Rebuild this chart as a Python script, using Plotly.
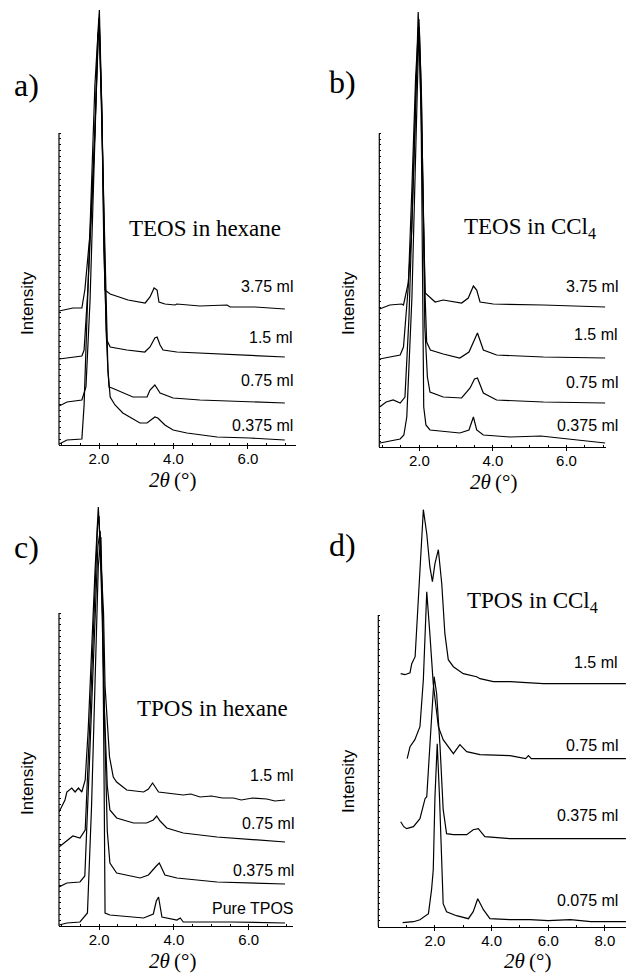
import plotly.graph_objects as go

# The page body has an 8px default margin; the figure is sized to fill the rest of the window.
PAGE_W, PAGE_H = 634, 973
OFF = 8
W, H = PAGE_W - OFF, PAGE_H - OFF

# ---------------- Panel a: TEOS in hexane ----------------
a_names = ["3.75 ml", "1.5 ml", "0.75 ml", "0.375 ml"]
a_x_375 = [0.93, 1.30, 1.54, 1.62, 1.76, 1.89, 1.97, 2.01, 2.07, 2.12, 2.16, 2.30, 2.78, 3.24, 3.37, 3.48, 3.56, 3.61, 3.77, 4.04, 4.09, 4.71, 5.44, 5.52, 6.19, 6.99]
a_y_375 = [134, 137, 137, 155, 212, 312, 412, 435, 345, 212, 155, 151, 145, 142, 148, 157, 155, 143, 141, 140, 141, 139, 140, 138, 138, 136]
a_x_15 = [0.93, 1.54, 1.60, 1.70, 1.84, 1.95, 2.00, 2.08, 2.13, 2.19, 2.21, 2.30, 2.75, 3.23, 3.37, 3.50, 3.56, 3.64, 3.72, 4.09, 5.44, 6.99]
a_y_15 = [86, 89, 95, 155, 265, 385, 427, 325, 195, 125, 105, 98, 95, 93, 98, 107, 108, 100, 95, 93, 91, 88]
a_x_075 = [0.93, 1.14, 1.54, 1.65, 1.76, 1.89, 1.97, 2.01, 2.08, 2.16, 2.24, 2.27, 2.35, 2.91, 3.29, 3.37, 3.50, 3.64, 3.99, 4.71, 6.99]
a_y_075 = [39, 43, 45, 58, 145, 295, 405, 420, 315, 165, 75, 58, 57, 48, 48, 55, 60, 52, 47, 45, 42]
a_x_0375 = [0.93, 1.14, 1.54, 1.60, 1.68, 1.79, 1.89, 1.97, 2.01, 2.07, 2.13, 2.19, 2.24, 2.30, 2.43, 2.64, 3.10, 3.29, 3.50, 3.58, 3.77, 3.99, 4.36, 5.17, 6.05, 6.99]
a_y_0375 = [1, 5, 6, 40, 130, 245, 360, 410, 417, 345, 215, 115, 75, 48, 40, 32, 22, 22, 28, 27, 20, 15, 12, 8, 7, 5]

# ---------------- Panel b: TEOS in CCl4 ----------------
b_names = ["3.75 ml", "1.5 ml", "0.75 ml", "0.375 ml"]
b_x_375 = [0.92, 1.20, 1.52, 1.57, 1.70, 1.79, 1.88, 1.95, 1.97, 2.02, 2.08, 2.13, 2.16, 2.43, 2.65, 3.15, 3.33, 3.47, 3.56, 3.65, 4.01, 5.37, 7.05]
b_y_375 = [138, 142, 143, 142, 164, 214, 314, 397, 435, 380, 280, 180, 154, 145, 147, 144, 149, 161, 157, 145, 143, 142, 140]
b_x_15 = [0.92, 1.20, 1.48, 1.57, 1.70, 1.80, 1.90, 1.99, 2.05, 2.10, 2.15, 2.20, 2.30, 2.65, 3.10, 3.35, 3.50, 3.58, 3.74, 4.10, 5.37, 7.05]
b_y_15 = [88, 90, 92, 100, 160, 260, 370, 428, 360, 260, 160, 105, 97, 93, 89, 95, 108, 114, 97, 92, 90, 89]
b_x_075 = [0.92, 1.10, 1.29, 1.48, 1.61, 1.72, 1.82, 1.92, 2.00, 2.06, 2.11, 2.15, 2.22, 2.29, 2.65, 3.15, 3.38, 3.50, 3.58, 3.74, 4.10, 5.37, 7.05]
b_y_075 = [40, 45, 47, 44, 50, 130, 250, 370, 420, 350, 230, 120, 70, 55, 50, 49, 59, 68, 69, 54, 47, 45, 44]
b_x_0375 = [0.93, 1.20, 1.48, 1.58, 1.66, 1.80, 1.92, 1.99, 2.05, 2.09, 2.12, 2.18, 2.29, 3.10, 3.35, 3.47, 3.56, 3.74, 4.47, 5.30, 7.05]
b_y_0375 = [4, 6, 8, 12, 30, 150, 330, 420, 330, 150, 40, 22, 17, 14, 17, 30, 17, 12, 10, 11, 4]

# ---------------- Panel c: TPOS in hexane ----------------
c_names = ["1.5 ml", "0.75 ml", "0.375 ml", "Pure TPOS"]
c_x_15 = [0.93, 1.09, 1.14, 1.27, 1.36, 1.45, 1.54, 1.63, 1.71, 1.80, 1.89, 1.98, 2.05, 2.12, 2.16, 2.21, 2.28, 2.38, 2.47, 2.74, 3.19, 3.32, 3.43, 3.59, 3.81, 4.25, 4.45, 4.70, 5.00, 5.30, 5.59, 5.80, 6.10, 6.48, 6.70, 6.97]
c_y_15 = [114, 126, 134, 138, 134, 138, 134, 146, 196, 279, 353, 419, 370, 313, 240, 213, 169, 149, 144, 136, 134, 137, 143, 134, 133, 131, 132, 129, 130, 128, 128, 126, 128, 127, 125, 126]
c_x_075 = [0.93, 1.22, 1.30, 1.49, 1.63, 1.75, 1.87, 1.96, 2.00, 2.07, 2.14, 2.22, 2.29, 2.47, 2.92, 3.27, 3.45, 3.54, 3.63, 3.81, 4.25, 5.15, 6.97]
c_y_075 = [79, 88, 90, 88, 96, 200, 320, 400, 410, 330, 220, 140, 116, 108, 103, 103, 106, 110, 105, 98, 93, 89, 84]
c_x_0375 = [0.93, 1.14, 1.49, 1.62, 1.75, 1.88, 1.97, 2.03, 2.09, 2.15, 2.22, 2.29, 2.47, 3.10, 3.32, 3.53, 3.61, 3.76, 4.08, 5.15, 6.97]
c_y_0375 = [39, 43, 44, 50, 170, 300, 380, 395, 320, 200, 95, 63, 53, 48, 51, 60, 63, 51, 48, 44, 42]
c_x_pure = [0.93, 1.14, 1.49, 1.69, 1.80, 1.90, 1.98, 2.05, 2.10, 2.14, 2.16, 2.29, 3.19, 3.45, 3.53, 3.59, 3.68, 4.08, 4.17, 4.25, 5.50, 6.97]
c_y_pure = [1, 3, 4, 13, 120, 270, 360, 389, 300, 120, 13, 11, 8, 12, 25, 29, 9, 6, 8, 4, 4, 3]

# ---------------- Panel d: TPOS in CCl4 ----------------
d_names = ["1.5 ml", "0.75 ml", "0.375 ml", "0.075 ml"]
d_x_15 = [0.79, 0.94, 1.12, 1.18, 1.30, 1.41, 1.50, 1.59, 1.71, 1.82, 1.91, 2.00, 2.12, 2.24, 2.35, 2.47, 2.65, 3.00, 3.47, 3.59, 4.06, 4.65, 5.82, 7.00, 8.74]
d_y_15 = [253, 252, 254, 263, 270, 327, 377, 417, 393, 360, 345, 363, 377, 343, 293, 267, 260, 253, 250, 248, 245, 245, 243, 243, 243]
d_x_075 = [1.02, 1.12, 1.29, 1.47, 1.59, 1.65, 1.71, 1.82, 1.94, 2.12, 2.29, 2.65, 2.88, 3.12, 3.59, 4.65, 5.20, 5.30, 5.40, 5.82, 7.00, 8.74]
d_y_075 = [168, 180, 187, 200, 247, 297, 335, 293, 243, 200, 187, 173, 182, 175, 172, 171, 168, 171, 168, 168, 168, 168]
d_x_0375 = [0.79, 0.90, 1.00, 1.24, 1.47, 1.59, 1.65, 1.71, 1.76, 1.85, 1.97, 2.06, 2.18, 2.29, 2.41, 2.65, 3.12, 3.35, 3.53, 3.76, 4.65, 8.74]
d_y_0375 = [105, 100, 98, 100, 108, 120, 128, 130, 153, 197, 250, 233, 180, 117, 93, 92, 92, 97, 98, 90, 88, 88]
d_x_0075 = [0.86, 1.24, 1.47, 1.77, 1.88, 1.94, 2.00, 2.08, 2.16, 2.24, 2.29, 2.41, 2.76, 3.18, 3.35, 3.51, 3.71, 3.94, 4.65, 5.35, 6.00, 6.78, 7.50, 8.74]
d_y_0075 = [4, 5, 7, 13, 37, 57, 130, 183, 130, 57, 23, 15, 11, 8, 15, 28, 17, 8, 7, 7, 6, 7, 5, 5]

titles = ["TEOS in hexane", "TEOS in CCl<sub>4</sub>", "TPOS in hexane", "TPOS in CCl<sub>4</sub>"]
letters = ["a)", "b)", "c)", "d)"]

panels = [
    dict(xs=[a_x_375, a_x_15, a_x_075, a_x_0375], ys=[a_y_375, a_y_15, a_y_075, a_y_0375], names=a_names,
         xdom=(59, 296), xr=(0.926, 7.29), ydom=(445, 9), yr=(0, 436), ytop=312, ticks=[2, 4, 6], minor=0.5,
         letter=(12, 85), title=(127, 228), lab_x=295, lab_y=[286, 337, 380, 425], inten=(27, 303), xt=(172, 480)),
    dict(xs=[b_x_375, b_x_15, b_x_075, b_x_0375], ys=[b_y_375, b_y_15, b_y_075, b_y_0375], names=b_names,
         xdom=(379.3, 606), xr=(0.913, 7.073), ydom=(447, 9), yr=(0, 438), ytop=313.7, ticks=[2, 4, 6], minor=0.5,
         letter=(327, 82), title=(462, 228), lab_x=620, lab_y=[286, 335, 382, 425], inten=(348, 303), xt=(493, 482)),
    dict(xs=[c_x_15, c_x_075, c_x_0375, c_x_pure], ys=[c_y_15, c_y_075, c_y_0375, c_y_pure], names=c_names,
         xdom=(59, 293.3), xr=(0.93, 7.19), ydom=(926, 500), yr=(0, 426), ytop=313, ticks=[2, 4, 6], minor=0.5,
         letter=(12, 547), title=(135, 708), lab_x=296, lab_y=[775, 823, 870, 908], inten=(27, 783), xt=(172, 961)),
    dict(xs=[d_x_15, d_x_075, d_x_0375, d_x_0075], ys=[d_y_15, d_y_075, d_y_0375, d_y_0075], names=d_names,
         xdom=(378.3, 633), xr=(0, 8.99), ydom=(926.7, 500), yr=(0, 426.7), ytop=311.7, ticks=[2, 4, 6, 8], minor=1.0,
         letter=(327, 545), title=(465, 602), lab_x=620, lab_y=[662, 745, 815, 900], inten=(348, 781), xt=(527, 961)),
]

def fx(p):
    return (p - OFF) / W

def fy(p):
    return 1 - (p - OFF) / H

fig = go.Figure()
annotations = []
shapes = []
layout = {}

SANS = "Liberation Sans, Arial, sans-serif"
SERIF = "Liberation Serif, Times New Roman, serif"

for i, p in enumerate(panels):
    k = "" if i == 0 else str(i + 1)
    xa, ya = "x" + k, "y" + k
    for xs, ys, nm in zip(p["xs"], p["ys"], p["names"]):
        fig.add_trace(go.Scatter(x=xs, y=ys, mode="lines", name=nm, xaxis=xa, yaxis=ya,
                                 line=dict(color="black", width=1.2), showlegend=False, hoverinfo="skip"))
    ticktext = [f"{v:.1f}" for v in p["ticks"]]
    layout["xaxis" + k] = dict(
        domain=[fx(p["xdom"][0]), min(1.0, fx(p["xdom"][1]))], range=list(p["xr"]), anchor=ya,
        showline=True, linecolor="black", linewidth=1, showgrid=False, zeroline=False,
        ticks="outside", ticklen=3, tickcolor="black", tickwidth=1,
        tickvals=p["ticks"], ticktext=ticktext, ticklabelstandoff=-3,
        tickfont=dict(family=SANS, size=15, color="black"),
        minor=dict(ticks="inside", ticklen=2, tickcolor="black", dtick=p["minor"], tick0=0, showgrid=False),
        fixedrange=True,
    )
    n = 54
    layout["yaxis" + k] = dict(
        domain=[fy(p["ydom"][0]), fy(p["ydom"][1])], range=list(p["yr"]), anchor=xa,
        showline=False, showgrid=False, zeroline=False, showticklabels=False,
        ticks="inside", ticklen=2, tickcolor="black", tickwidth=1,
        tickvals=[j * p["ytop"] / n for j in range(n + 1)], fixedrange=True,
    )
    shapes.append(dict(type="line", xref=xa + " domain", yref=ya, x0=0, x1=0, y0=0, y1=p["ytop"],
                       line=dict(color="black", width=1.2)))
    annotations.append(dict(text=letters[i], x=fx(p["letter"][0]), y=fy(p["letter"][1]), xref="paper", yref="paper",
                            xanchor="left", yanchor="middle", showarrow=False,
                            font=dict(family=SERIF, size=32, color="black")))
    annotations.append(dict(text=titles[i], x=fx(p["title"][0]), y=fy(p["title"][1]), xref="paper", yref="paper",
                            xanchor="left", yanchor="middle", showarrow=False,
                            font=dict(family=SERIF, size=23, color="black")))
    for nm, ly in zip(p["names"], p["lab_y"]):
        annotations.append(dict(text=nm, x=fx(p["lab_x"]), y=fy(ly), xref="paper", yref="paper",
                                xanchor="right", yanchor="middle", showarrow=False,
                                font=dict(family=SANS, size=16, color="black")))
    annotations.append(dict(text="Intensity", x=fx(p["inten"][0]), y=fy(p["inten"][1]), xref="paper", yref="paper",
                            xanchor="center", yanchor="middle", textangle=-90, showarrow=False,
                            font=dict(family=SANS, size=17, color="black")))
    annotations.append(dict(text="<i>2θ</i>\u2009(°)", x=fx(p["xt"][0]), y=fy(p["xt"][1]), xref="paper", yref="paper",
                            xanchor="center", yanchor="middle", showarrow=False,
                            font=dict(family=SERIF, size=21, color="black")))

fig.update_layout(
    width=W, height=H, margin=dict(l=0, r=0, t=0, b=0),
    paper_bgcolor="white", plot_bgcolor="white", showlegend=False,
    annotations=annotations, shapes=shapes, **layout,
)

fig.write_html("out.html")
